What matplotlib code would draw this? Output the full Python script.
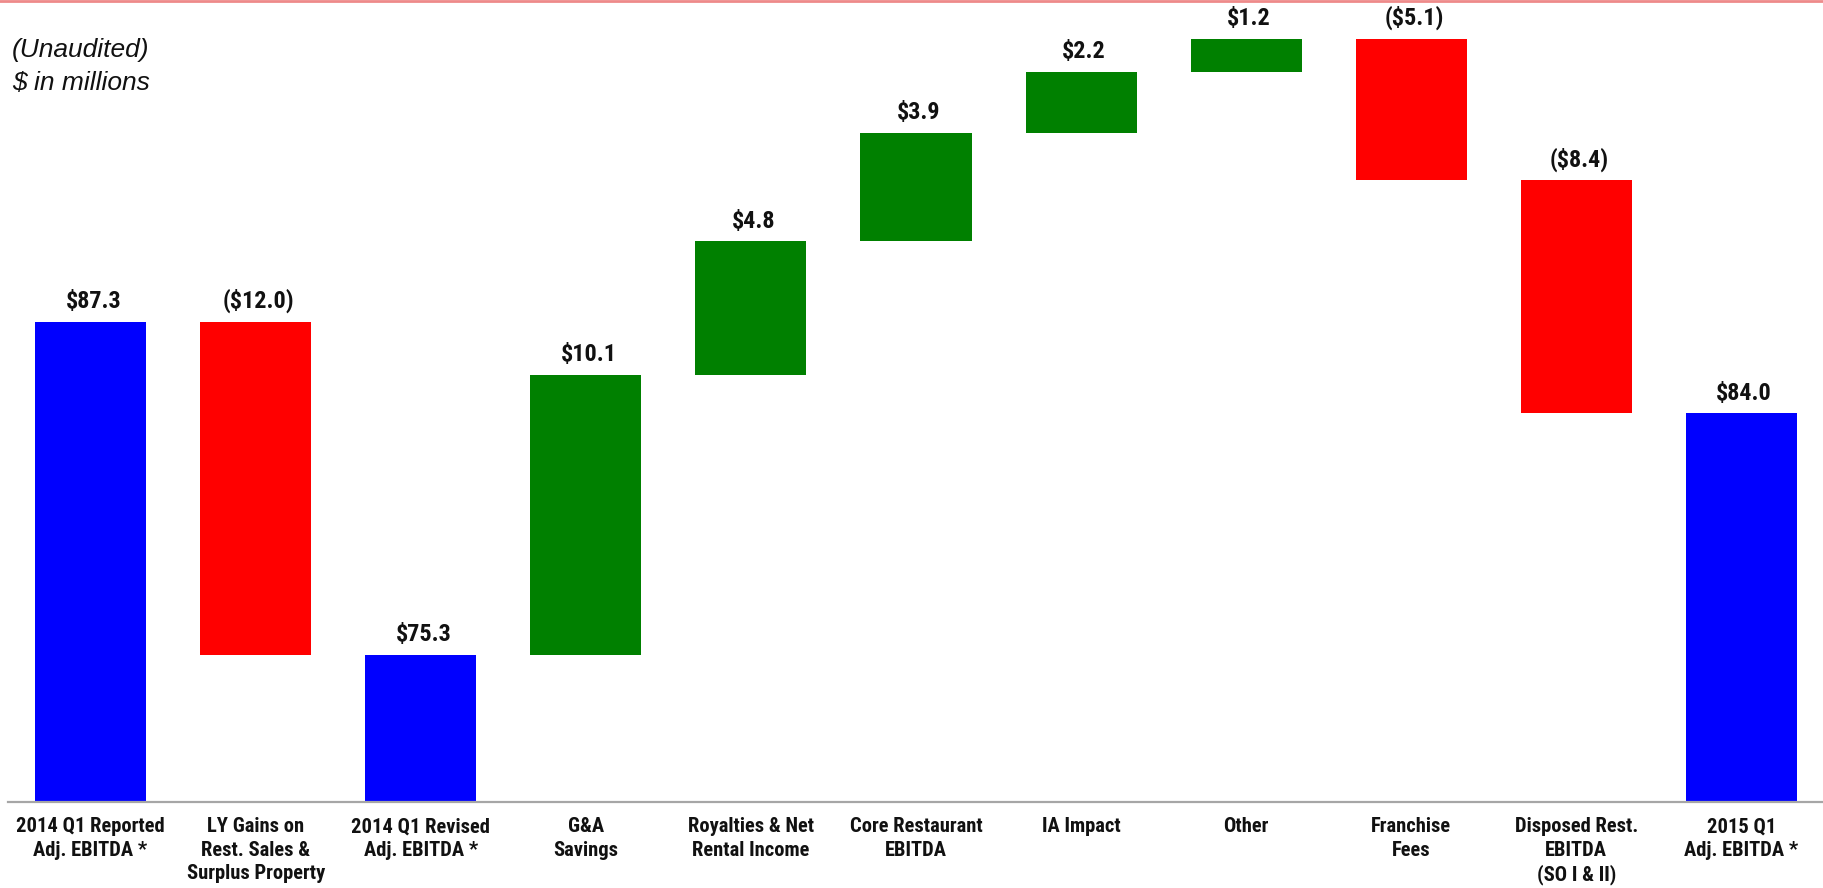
import matplotlib
matplotlib.use("Agg")
import matplotlib.pyplot as plt
from matplotlib.lines import Line2D
from matplotlib import font_manager
from matplotlib.font_manager import FontProperties

categories = [
    "2014 Q1 Reported\nAdj. EBITDA *",
    "LY Gains on\nRest. Sales &\nSurplus Property",
    "2014 Q1 Revised\nAdj. EBITDA *",
    "G&A\nSavings",
    "Royalties & Net\nRental Income",
    "Core Restaurant\nEBITDA",
    "IA Impact",
    "Other",
    "Franchise\nFees",
    "Disposed Rest.\nEBITDA\n(SO I & II)",
    "2015 Q1\nAdj. EBITDA *",
]
values = [87.3, -12.0, 75.3, 10.1, 4.8, 3.9, 2.2, 1.2, -5.1, -8.4, 84.0]
is_total = [True, False, True, False, False, False, False, False, False, False, True]


def pick_bold_font():
    entries = font_manager.fontManager.ttflist
    prefs = ["Liberation Sans Narrow", "Arial Narrow", "Roboto Condensed",
             "Open Sans Condensed", "Noto Sans Condensed"]
    for p in prefs:
        for e in entries:
            if e.name == p and e.weight in ("bold", 700) and e.style == "normal":
                return FontProperties(fname=e.fname)
    cond = ("condensed", "semi-condensed", "extra-condensed")
    for fam in ["Roboto", "Open Sans", "Noto Sans", "Liberation Sans"]:
        for e in entries:
            if (e.name == fam and e.style == "normal" and e.stretch in cond
                    and e.weight in ("bold", 700, "semibold", 600)):
                return FontProperties(fname=e.fname)
    return FontProperties(family="Liberation Sans", weight="bold")


W, H, DPI = 1824, 888, 100
fig = plt.figure(figsize=(W / DPI, H / DPI), dpi=DPI)
renderer = fig.canvas.get_renderer()

bold_fp = pick_bold_font()


def fitted_size(text, target_px, base=16.0):
    t = fig.text(0, 0, text, fontproperties=bold_fp, fontsize=base)
    w = t.get_window_extent(renderer).width
    t.remove()
    return base * target_px / w


cat_size = min(17.5, fitted_size("2014 Q1 Reported", 148))
val_size = min(20.0, fitted_size("$87.3", 56))

y0 = 70.0
ax = fig.add_axes([8 / W, (H - 802) / H, (W - 8) / W, 802 / H])

bottoms, heights, colors, tops = [], [], [], []
running = 0.0
for v, t in zip(values, is_total):
    if t:
        b, h = y0, v - y0
        running = v
        colors.append("#0000FF")
        tops.append(v)
    else:
        if v >= 0:
            b, h = running, v
            colors.append("#008000")
            tops.append(running + v)
        else:
            b, h = running + v, -v
            colors.append("#FF0000")
            tops.append(running)
        running += v
    bottoms.append(b)
    heights.append(h)

x = list(range(len(categories)))
ax.bar(x, heights, bottom=bottoms, width=0.673, color=colors, linewidth=0)

for xi, v, top in zip(x, values, tops):
    lab = f"${v:.1f}" if v >= 0 else f"(${-v:.1f})"
    ax.annotate(lab, (xi, top), xytext=(2, 10), textcoords="offset points",
                ha="center", va="baseline", fontproperties=bold_fp,
                fontsize=val_size, color="#111111")

ax.set_xlim(-0.5, len(categories) - 0.5)
ax.set_ylim(y0, y0 + 802 / 27.75)
ax.set_xticks(x)
ax.set_xticklabels(categories, fontproperties=bold_fp, fontsize=cat_size,
                   linespacing=1.3, color="#111111")
ax.tick_params(axis="x", length=0, pad=11)
ax.set_yticks([])
for s in ["top", "left", "right"]:
    ax.spines[s].set_visible(False)
ax.spines["bottom"].set_color("#a6a6a6")
ax.spines["bottom"].set_linewidth(1.6)

fig.text(12 / W, 1 - 57 / H, "(Unaudited)", fontsize=19, style="italic",
         family=["Liberation Sans", "DejaVu Sans"], ha="left", va="baseline",
         color="#111111")
fig.text(12 / W, 1 - 90 / H, "$ in millions", fontsize=19, style="italic",
         family=["Liberation Sans", "DejaVu Sans"], ha="left", va="baseline",
         color="#111111")

fig.add_artist(Line2D([0, 1], [1 - 1 / H, 1 - 1 / H], transform=fig.transFigure,
                      color="#ee8a8a", linewidth=2))

fig.savefig("out.png", dpi=DPI)
